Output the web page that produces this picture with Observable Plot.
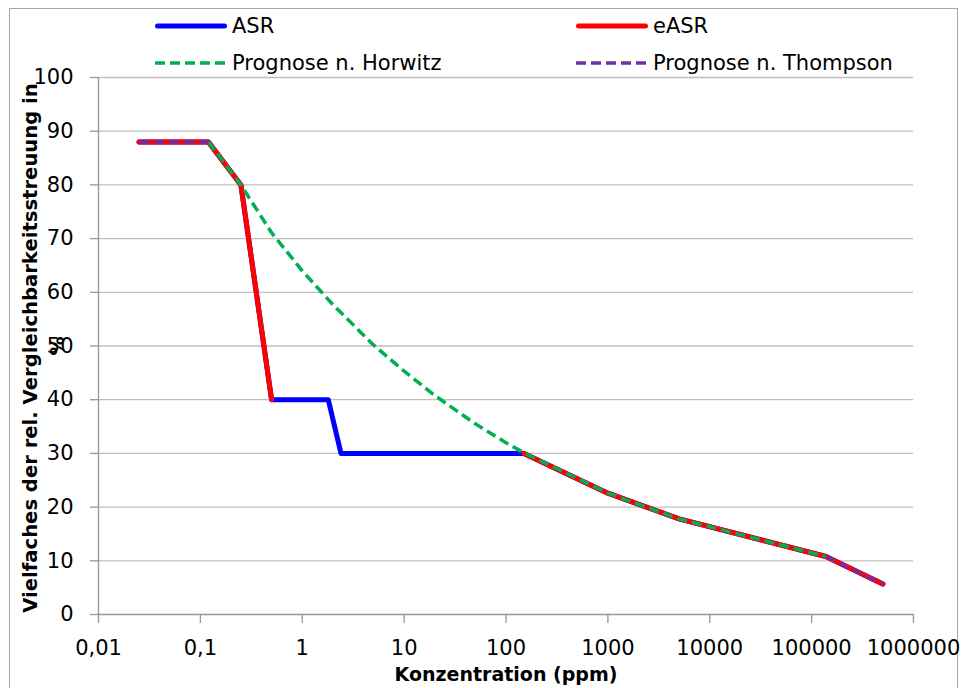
<!DOCTYPE html>
<html>
<head>
<meta charset="utf-8">
<script src="https://cdn.jsdelivr.net/npm/d3@7"></script>
<script src="https://cdn.jsdelivr.net/npm/@observablehq/plot@0.6"></script>
<style>
  html, body { margin: 0; padding: 0; background: #fff; }
  #wrap { position: relative; width: 966px; height: 688px; overflow: hidden; font-family: "DejaVu Sans", sans-serif; }
  #frame { position: absolute; left: 9px; top: 8px; width: 949px; height: 700px; border: 1px solid #a6a6a6; box-sizing: border-box; }
  #chart { position: absolute; left: 0; top: 0; }
  .leg { position: absolute; display: flex; align-items: center; font-size: 21px; color: #000; white-space: nowrap; }
  .leg svg { display: block; margin-right: 5px; }
</style>
</head>
<body>
<div id="wrap">
  <div id="frame"></div>
  <div id="chart"></div>
  <div id="legend"></div>
</div>
<script>
// ---- data ----
const seriesNames = ["ASR", "eASR", "Prognose n. Horwitz", "Prognose n. Thompson"];
const seriesColors = ["#0000ff", "#ff0000", "#00b050", "#7030a0"];

// concentrations (ppm) for ASR / eASR
const concASR = [0.025, 0.12, 0.25, 0.5, 1.8, 2.4, 150, 1000, 5000, 138000, 500000];
const valASR  = [88, 88, 80, 40, 40, 30, 30, 22.6, 17.8, 10.8, 5.7];
const valEASR = [88, 88, 80, 40, null, null, 30, 22.6, 17.8, 10.8, 5.7];

// Horwitz prognosis
const concHorwitz = [0.12, 0.25, 0.5, 1, 2, 5, 10, 20, 50, 100, 150, 1000, 5000, 138000];
const valHorwitz  = [88, 80, 71.1, 64, 57.7, 50.2, 45.3, 40.8, 35.5, 32, 30.1, 22.6, 17.8, 10.8];

// Thompson prognosis
const concThompson = [0.025, 0.12, 1000, 138000, 500000];
const valThompson  = [88, 88, null, 10.8, 5.7];

// axes
const xTicks = [0.01, 0.1, 1, 10, 100, 1000, 10000, 100000, 1000000];
const xTickLabels = ["0,01", "0,1", "1", "10", "100", "1000", "10000", "100000", "1000000"];
const yTicks = [0, 10, 20, 30, 40, 50, 60, 70, 80, 90, 100];
const xTitle = "Konzentration (ppm)";
const yTitleLine1 = "Vielfaches der rel. Vergleichbarkeitsstreuung in";
const yTitleLine2 = "%";

// ---- build tables ----
const toRows = (xs, ys) => xs.map((x, i) => ({x, y: ys[i]}));
const asr = toRows(concASR, valASR);
const easr = toRows(concASR, valEASR);
const horwitz = toRows(concHorwitz, valHorwitz);
const thompson = toRows(concThompson, valThompson);

const axisGray = "#969696";
const gridGray = "#bfbfbf";

const chart = Plot.plot({
  width: 966,
  height: 688,
  marginLeft: 98,
  marginRight: 53,
  marginTop: 77,
  marginBottom: 74,
  style: { fontFamily: "DejaVu Sans", fontSize: "21px", color: "#000", background: "transparent", overflow: "visible" },
  x: { type: "log", domain: [0.01, 1000000] },
  y: { domain: [0, 100] },
  marks: [
    Plot.gridY(yTicks.slice(1), { stroke: gridGray, strokeOpacity: 1, strokeWidth: 1.3 }),
    Plot.axisY({ ticks: yTicks, tickSize: 8, tickPadding: 17, stroke: axisGray, strokeWidth: 1.3, fill: "#000", label: null, tickFormat: d => String(d) }),
    Plot.axisX({ ticks: xTicks, tickSize: 9, tickPadding: 17, stroke: axisGray, strokeWidth: 1.3, fill: "#000", label: null,
                 tickFormat: d => xTickLabels[xTicks.indexOf(d)] }),
    Plot.ruleY([0], { stroke: axisGray, strokeWidth: 1.3 }),
    Plot.ruleX([0.01], { stroke: axisGray, strokeWidth: 1.3 }),
    Plot.line(asr, { x: "x", y: "y", stroke: seriesColors[0], strokeWidth: 5, strokeLinecap: "round", strokeLinejoin: "round" }),
    Plot.line(easr, { x: "x", y: "y", stroke: seriesColors[1], strokeWidth: 5, strokeLinecap: "round", strokeLinejoin: "round" }),
    Plot.line(horwitz, { x: "x", y: "y", stroke: seriesColors[2], strokeWidth: 3.5, strokeDasharray: "10,5", strokeLinecap: "butt", strokeLinejoin: "round" }),
    Plot.line(thompson, { x: "x", y: "y", stroke: seriesColors[3], strokeWidth: 3.5, strokeDasharray: "10,5", strokeLinecap: "butt", strokeLinejoin: "round" })
  ]
});
document.getElementById("chart").appendChild(chart);

// axis titles
const svg = d3.select(chart);
svg.append("text")
  .attr("x", 506).attr("y", 681)
  .attr("text-anchor", "middle")
  .attr("font-family", "DejaVu Sans").attr("font-weight", "bold").attr("font-size", 19)
  .attr("fill", "#000")
  .text(xTitle);
svg.append("text")
  .attr("transform", "translate(37,348) rotate(-90)")
  .attr("text-anchor", "middle")
  .attr("font-family", "DejaVu Sans").attr("font-weight", "bold").attr("font-size", 19.6)
  .attr("fill", "#000")
  .text(yTitleLine1);
svg.append("text")
  .attr("transform", "translate(64,346) rotate(-90)")
  .attr("text-anchor", "middle")
  .attr("font-family", "DejaVu Sans").attr("font-weight", "bold").attr("font-size", 19)
  .attr("fill", "#000")
  .text(yTitleLine2);

// legend
const legPos = [[155, 26], [576, 26], [155, 63], [576, 63]];
const legend = document.getElementById("legend");
seriesNames.forEach((name, i) => {
  const div = document.createElement("div");
  div.className = "leg";
  div.style.left = legPos[i][0] + "px";
  div.style.top = (legPos[i][1] - 14) + "px";
  div.style.height = "28px";
  const dashed = i >= 2;
  div.innerHTML = `<svg width="72" height="10"><line x1="${dashed ? 0 : 2.5}" x2="${dashed ? 70 : 69.5}" y1="5" y2="5" stroke="${seriesColors[i]}" stroke-width="${dashed ? 3.5 : 5}" ${dashed ? 'stroke-dasharray="10,5"' : 'stroke-linecap="round"'}/></svg><span>${name}</span>`;
  legend.appendChild(div);
});
</script>
</body>
</html>
